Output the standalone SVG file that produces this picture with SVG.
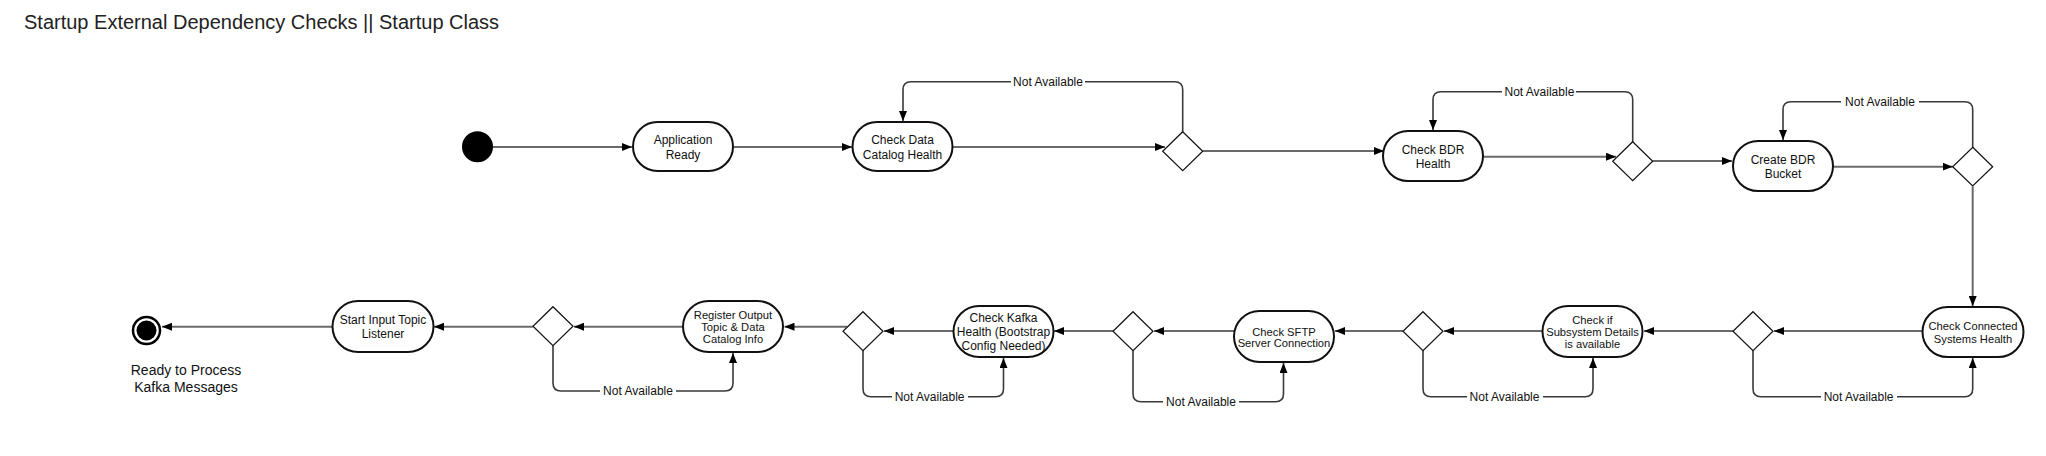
<svg xmlns="http://www.w3.org/2000/svg" width="2046" height="456" viewBox="0 0 2046 456">
<style>
text{font-family:"Liberation Sans",Arial,Helvetica,sans-serif;fill:#111;text-anchor:middle}
.title{font-size:20px;text-anchor:start;fill:#222}
.n{fill:#fff;stroke:#111;stroke-width:2}
.d{fill:#fff;stroke:#111;stroke-width:1.2}
.t12{font-size:12px}
.t11{font-size:11.2px}
.main{fill:none;stroke:#6a6a6a;stroke-width:2;marker-end:url(#arr)}
.loop{fill:none;stroke:#3a3a3a;stroke-width:1.6;marker-end:url(#arr)}
.plain{fill:none;stroke:#6a6a6a;stroke-width:2}
.lbl{font-size:12px}
.lblbg{fill:#fff}
</style>
<defs>
<marker id="arr" viewBox="0 0 10 8" refX="10" refY="4" markerWidth="10" markerHeight="8" markerUnits="userSpaceOnUse" orient="auto">
<path d="M0,0 L10,4 L0,8 z" fill="#000"/>
</marker>
</defs>
<rect width="2046" height="456" fill="#fff"/>
<text class="title" x="24" y="29">Startup External Dependency Checks || Startup Class</text>

<g id="connectors">
<path class="main" d="M493,147 L632,147"/>
<path class="main" d="M733,147 L852,147"/>
<path class="main" d="M952.5,147 L1165,147"/>
<path class="main" d="M1203,151 L1384,151"/>
<path class="loop" d="M1182.7,131.7 V89.7 Q1182.7,81.7 1174.7,81.7 H911 Q903,81.7 903,89.7 V121"/>
<path class="main" d="M1483,156.7 L1616,156.7"/>
<path class="main" d="M1652.7,161 L1732,161"/>
<path class="loop" d="M1632.7,141.7 V99.7 Q1632.7,91.7 1624.7,91.7 H1441 Q1433,91.7 1433,99.7 V130"/>
<path class="main" d="M1833,166.7 L1952.7,166.7"/>
<path class="loop" d="M1972.7,147.3 V109.7 Q1972.7,101.7 1964.7,101.7 H1791 Q1783,101.7 1783,109.7 V140"/>
<path class="main" d="M1972.7,186.5 V306"/>
<path class="main" d="M1922,331 L1774,331"/>
<path class="loop" d="M1753,350.7 V388.7 Q1753,396.7 1761,396.7 H1964.7 Q1972.7,396.7 1972.7,388.7 V358"/>
<path class="main" d="M1733,331 L1644,331"/>
<path class="loop" d="M1423,350.7 V388.7 Q1423,396.7 1431,396.7 H1585 Q1593,396.7 1593,388.7 V358"/>
<path class="main" d="M1542.5,331 L1444,331"/>
<path class="main" d="M1403,331 L1335,331"/>
<path class="main" d="M1234,331 L1154,331"/>
<path class="loop" d="M1133,350.7 V393.7 Q1133,401.7 1141,401.7 H1275.5 Q1283.5,401.7 1283.5,393.7 V363"/>
<path class="main" d="M1113,331 L1054,331"/>
<path class="main" d="M953.5,331 L884,331"/>
<path class="loop" d="M863,350.7 V388.7 Q863,396.7 871,396.7 H995.5 Q1003.5,396.7 1003.5,388.7 V358"/>
<path class="main" d="M847,326.7 L784.5,326.7"/>
<path class="main" d="M683,326.7 L574,326.7"/>
<path class="loop" d="M553,346 V383 Q553,391 561,391 H725 Q733,391 733,383 V353"/>
<path class="main" d="M533,326.7 L434,326.7"/>
<path class="main" d="M332,326.7 L162,326.7"/>

<rect class="lblbg" x="1011" y="74" width="74" height="15"/>
<text class="lbl" x="1048" y="86">Not Available</text>
<rect class="lblbg" x="1502" y="84" width="74" height="15"/>
<text class="lbl" x="1539.4" y="96">Not Available</text>
<rect class="lblbg" x="1841" y="94" width="78" height="15"/>
<text class="lbl" x="1880" y="106">Not Available</text>
<rect class="lblbg" x="1821" y="389" width="76" height="15"/>
<text class="lbl" x="1858.6" y="401">Not Available</text>
<rect class="lblbg" x="1467" y="389" width="76" height="15"/>
<text class="lbl" x="1504.5" y="401">Not Available</text>
<rect class="lblbg" x="1163" y="394" width="76" height="15"/>
<text class="lbl" x="1201" y="406">Not Available</text>
<rect class="lblbg" x="892" y="389" width="76" height="15"/>
<text class="lbl" x="929.6" y="401">Not Available</text>
<rect class="lblbg" x="600" y="383" width="76" height="15"/>
<text class="lbl" x="638" y="395">Not Available</text>
</g>

<g id="start"><circle cx="477.5" cy="146.7" r="15.5" fill="#000"/></g>

<g id="app-ready">
<rect class="n" x="633" y="122" width="100" height="49" rx="24.5"/>
<text class="t12" x="683" y="144.3">Application</text>
<text class="t12" x="683" y="158.6">Ready</text>
</g>
<g id="check-data-catalog">
<rect class="n" x="852.5" y="122" width="100" height="49" rx="24.5"/>
<text class="t12" x="902.5" y="144.3">Check Data</text>
<text class="t12" x="902.5" y="158.6">Catalog Health</text>
</g>
<g id="decision-1"><path class="d" d="M1182.7,131.7 L1202.7,151.2 L1182.7,170.7 L1162.7,151.2 z"/></g>
<g id="check-bdr">
<rect class="n" x="1383" y="131" width="100" height="50" rx="25"/>
<text class="t12" x="1433" y="154.3">Check BDR</text>
<text class="t12" x="1433" y="168.3">Health</text>
</g>
<g id="decision-2"><path class="d" d="M1632.7,141.7 L1652.7,161.2 L1632.7,180.7 L1612.7,161.2 z"/></g>
<g id="create-bdr-bucket">
<rect class="n" x="1733" y="141" width="100" height="50" rx="25"/>
<text class="t12" x="1783" y="164.3">Create BDR</text>
<text class="t12" x="1783" y="178.3">Bucket</text>
</g>
<g id="decision-3"><path class="d" d="M1972.7,147.3 L1992.7,166.7 L1972.7,186 L1952.7,166.7 z"/></g>
<g id="check-connected">
<rect class="n" x="1922.5" y="307" width="101" height="50" rx="25"/>
<text class="t11" x="1973" y="329.5">Check Connected</text>
<text class="t11" x="1973" y="342.5">Systems Health</text>
</g>
<g id="decision-4"><path class="d" d="M1753,311.7 L1773,331.2 L1753,350.7 L1733,331.2 z"/></g>
<g id="check-subsystem">
<rect class="n" x="1542.5" y="306" width="100" height="51" rx="25.5"/>
<text class="t11" x="1592.5" y="323.8">Check if</text>
<text class="t11" x="1592.5" y="335.8">Subsystem Details</text>
<text class="t11" x="1592.5" y="347.8">is available</text>
</g>
<g id="decision-5"><path class="d" d="M1423,311.7 L1443,331.2 L1423,350.7 L1403,331.2 z"/></g>
<g id="check-sftp">
<rect class="n" x="1234" y="311" width="100" height="51" rx="25.5"/>
<text class="t11" x="1284" y="335.5">Check SFTP</text>
<text class="t11" x="1284" y="347">Server Connection</text>
</g>
<g id="decision-6"><path class="d" d="M1133,311.7 L1153,331.2 L1133,350.7 L1113,331.2 z"/></g>
<g id="check-kafka">
<rect class="n" x="953.5" y="306" width="100" height="51" rx="25.5"/>
<text class="t12" x="1003.5" y="321.8">Check Kafka</text>
<text class="t12" x="1003.5" y="336.2">Health (Bootstrap</text>
<text class="t12" x="1003.5" y="350.3">Config Needed)</text>
</g>
<g id="decision-7"><path class="d" d="M863,311.7 L883,331.2 L863,350.7 L843,331.2 z"/></g>
<g id="register-output">
<rect class="n" x="683" y="301" width="100" height="51" rx="25.5"/>
<text class="t11" x="733" y="319">Register Output</text>
<text class="t11" x="733" y="331.2">Topic &amp; Data</text>
<text class="t11" x="733" y="343.3">Catalog Info</text>
</g>
<g id="decision-8"><path class="d" d="M553,306.7 L573,326.2 L553,345.7 L533,326.2 z"/></g>
<g id="start-input-listener">
<rect class="n" x="332.5" y="301" width="101" height="51" rx="25.5"/>
<text class="t12" x="383" y="324.2">Start Input Topic</text>
<text class="t12" x="383" y="337.5">Listener</text>
</g>
<g id="end">
<circle cx="146.5" cy="330.5" r="13.5" fill="#fff" stroke="#000" stroke-width="2.5"/>
<circle cx="146.5" cy="330.5" r="10" fill="#000"/>
<text x="186" y="375" style="font-size:14px">Ready to Process</text>
<text x="186" y="392" style="font-size:14px">Kafka Messages</text>
</g>
</svg>
